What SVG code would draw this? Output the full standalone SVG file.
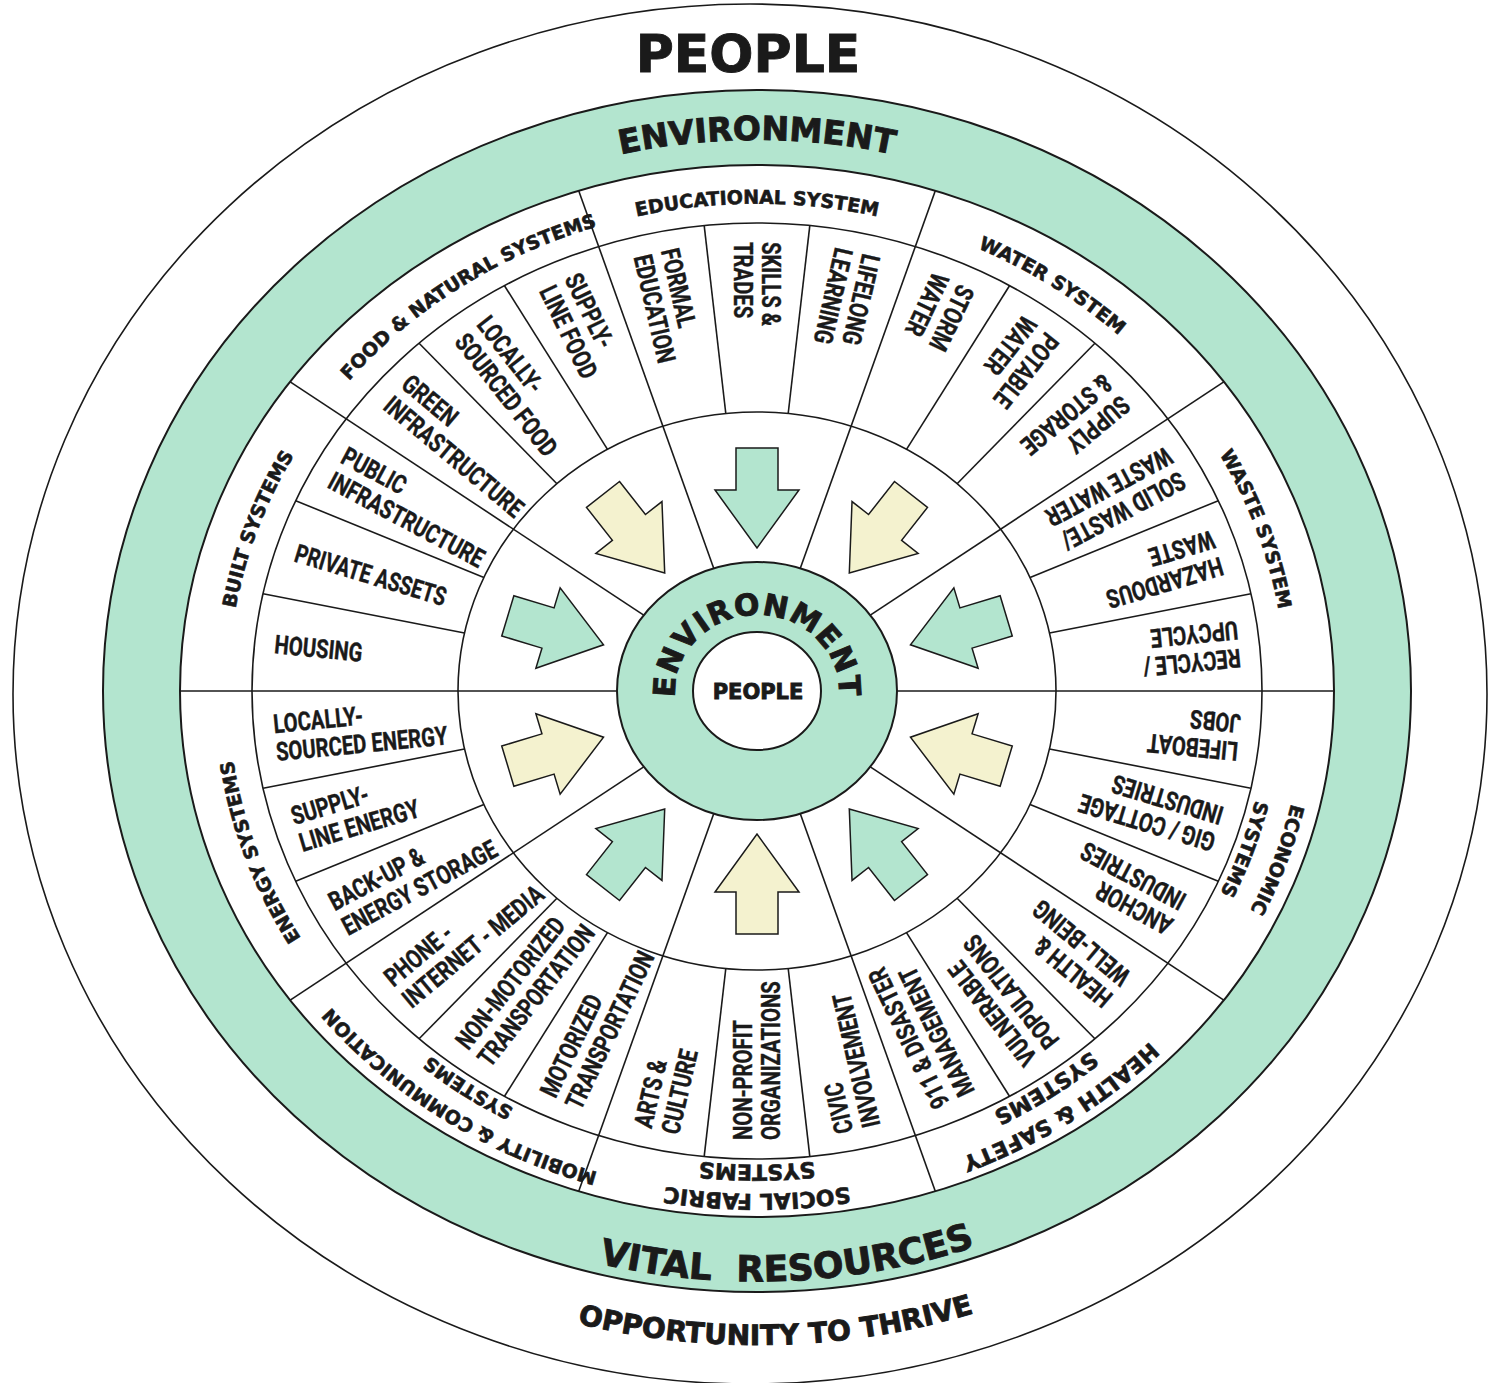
<svg xmlns="http://www.w3.org/2000/svg" width="1492" height="1383" viewBox="0 0 1492 1383">
<style>
.ln{stroke:#1a1a1a;stroke-width:1.6;fill:none}
.big{font-family:"DejaVu Sans","Liberation Sans",sans-serif;font-weight:bold;fill:#1a1a1a;stroke:#1a1a1a;stroke-width:0.9}
.sys{font-family:"DejaVu Sans","Liberation Sans",sans-serif;font-weight:bold;font-size:19px;fill:#1a1a1a;stroke:#1a1a1a;stroke-width:0.6}
.sys2{font-size:22px}
.sc{font-family:Roboto,"Liberation Sans",sans-serif;font-weight:700;font-size:26px;fill:#1a1a1a;stroke:#1a1a1a;stroke-width:0.4}
.g{fill:#b3e5cf}
.y{fill:#f4f2cf}
.arrow{stroke:#1a1a1a;stroke-width:1.5}
</style>
<defs>
<path id="arr" d="M0,-21H42V-42L100,0L42,42V21H0Z"/>
<path id="t-env" d="M369.6,268.9 A602.7,551 0 0 1 1144.4,268.9"/>
<path id="t-vital" d="M130.5,823.9 A643,590.5 0 0 0 1395.2,763"/>
<path id="t-opp" d="M67.6,823.6 A704,654 0 0 0 1453.6,785.4"/>
<path id="t-cenv" d="M679.9,717 A82,76 0 1 1 834.1,717"/>
<path id="t-edu" d="M236.2,606.4 A528.8,487.1 0 0 1 1277.8,606.4"/>
<path id="t-food" d="M281.7,904.5 A528.8,487.1 0 0 1 1124.4,340.6"/>
<path id="t-built" d="M508.7,1121.1 A528.8,487.1 0 0 1 830.6,208.6"/>
<path id="t-energy" d="M830.6,1173.4 A528.8,487.1 0 0 1 508.7,260.9"/>
<path id="t-waste" d="M683.4,208.6 A528.8,487.1 0 0 1 1005.3,1121.1"/>
<path id="t-water" d="M389.6,340.6 A528.8,487.1 0 0 1 1232.3,904.5"/>
<path id="t-mob-o" d="M1137.8,1052.7 A548.2,502.8 0 0 1 264.3,470.6"/>
<path id="t-mob-i" d="M1112.8,1031.8 A512.2,473.8 0 0 1 296.6,483.3"/>
<path id="t-soc-o" d="M1296.9,778.3 A548.2,502.8 0 0 1 217.1,778.3"/>
<path id="t-soc-i" d="M1261.4,773.3 A512.2,473.8 0 0 1 252.6,773.3"/>
<path id="t-hs-o" d="M1249.7,470.6 A548.2,502.8 0 0 1 376.2,1052.7"/>
<path id="t-hs-i" d="M1217.4,483.3 A512.2,473.8 0 0 1 401.2,1031.8"/>
<path id="t-eco-o" d="M1014.4,247.1 A548.2,502.8 0 0 1 680.7,1188.9"/>
<path id="t-eco-i" d="M997.5,272.7 A512.2,473.8 0 0 1 685.7,1160.2"/>
</defs>
<rect width="1492" height="1383" fill="#fff"/>
<g id="rings">
<ellipse cx="750" cy="694" rx="737" ry="690" fill="#fff" stroke="#1a1a1a" stroke-width="1.6"/>
<ellipse cx="757" cy="691" rx="654" ry="601" class="g" stroke="#1a1a1a" stroke-width="2"/>
<ellipse cx="757" cy="691" rx="577" ry="526" fill="#fff" stroke="#1a1a1a" stroke-width="2"/>
<ellipse cx="757" cy="691" rx="505" ry="468" class="ln"/>
<ellipse cx="757" cy="691" rx="299" ry="279" class="ln"/>
</g>
<g id="connectors" class="ln">
<line x1="897" y1="691" x2="1334" y2="691"/>
<line x1="870.3" y1="615.2" x2="1223.8" y2="381.8"/>
<line x1="800.3" y1="568.3" x2="935.3" y2="190.7"/>
<line x1="713.7" y1="568.3" x2="578.7" y2="190.7"/>
<line x1="643.7" y1="615.2" x2="290.2" y2="381.8"/>
<line x1="617" y1="691" x2="180" y2="691"/>
<line x1="643.7" y1="766.8" x2="290.2" y2="1000.2"/>
<line x1="713.7" y1="813.7" x2="578.7" y2="1191.3"/>
<line x1="800.3" y1="813.7" x2="935.3" y2="1191.3"/>
<line x1="870.3" y1="766.8" x2="1223.8" y2="1000.2"/>
<line x1="1049.5" y1="633" x2="1250.9" y2="593.7"/>
<line x1="1030.1" y1="577.5" x2="1218.3" y2="500.7"/>
<line x1="957.1" y1="483.7" x2="1094.9" y2="343.2"/>
<line x1="906.5" y1="449.4" x2="1009.5" y2="285.7"/>
<line x1="788.2" y1="413.5" x2="809.8" y2="225.6"/>
<line x1="725.8" y1="413.5" x2="704.2" y2="225.6"/>
<line x1="607.5" y1="449.4" x2="504.5" y2="285.7"/>
<line x1="556.9" y1="483.7" x2="419.1" y2="343.2"/>
<line x1="483.9" y1="577.5" x2="295.7" y2="500.7"/>
<line x1="464.5" y1="633" x2="263.1" y2="593.7"/>
<line x1="464.5" y1="749" x2="263.1" y2="788.3"/>
<line x1="483.9" y1="804.5" x2="295.7" y2="881.3"/>
<line x1="556.9" y1="898.3" x2="419.1" y2="1038.8"/>
<line x1="607.5" y1="932.6" x2="504.5" y2="1096.3"/>
<line x1="725.8" y1="968.5" x2="704.2" y2="1156.4"/>
<line x1="788.2" y1="968.5" x2="809.8" y2="1156.4"/>
<line x1="906.5" y1="932.6" x2="1009.5" y2="1096.3"/>
<line x1="957.1" y1="898.3" x2="1094.9" y2="1038.8"/>
<line x1="1030.1" y1="804.5" x2="1218.3" y2="881.3"/>
<line x1="1049.5" y1="749" x2="1250.9" y2="788.3"/>
</g>
<g id="center">
<ellipse cx="757" cy="691" rx="140" ry="129" class="g" stroke="#1a1a1a" stroke-width="2"/>
<ellipse cx="757" cy="691" rx="64" ry="59" fill="#fff" stroke="#1a1a1a" stroke-width="2"/>
<text class="big" font-size="30" letter-spacing="1" text-anchor="middle"><textPath href="#t-cenv" startOffset="50%">ENVIRONMENT</textPath></text>
<text class="big" font-size="21" stroke-width="0.5" x="758" y="699" text-anchor="middle">PEOPLE</text>
</g>
<g id="outer-labels">
<text class="big" font-size="52" stroke-width="1.4" x="748" y="72" text-anchor="middle">PEOPLE</text>
<text class="big" font-size="33" text-anchor="middle"><textPath href="#t-env" startOffset="50%">ENVIRONMENT</textPath></text>
<text class="big" font-size="36" text-anchor="middle"><textPath href="#t-vital" startOffset="50%">VITAL&#160;&#160;RESOURCES</textPath></text>
<text class="big" font-size="28" stroke-width="0.7" text-anchor="middle"><textPath href="#t-opp" startOffset="50%">OPPORTUNITY TO THRIVE</textPath></text>
</g>
<g id="sys-education">
<text class="sys" text-anchor="middle"><textPath href="#t-edu" startOffset="50%">EDUCATIONAL SYSTEM</textPath></text>
<text class="sc" transform="translate(656.2 251.8) rotate(77.1) scale(0.78 1)"><tspan x="0" y="-4.75">FORMAL</tspan><tspan x="0" y="23.25">EDUCATION</tspan></text>
<text class="sc" transform="translate(757 242) rotate(90) scale(0.78 1)"><tspan x="0" y="-4.75">SKILLS &amp;</tspan><tspan x="0" y="23.25">TRADES</tspan></text>
<text class="sc" transform="translate(857.8 251.8) rotate(102.9) scale(0.78 1)"><tspan x="0" y="-4.75">LIFELONG</tspan><tspan x="0" y="23.25">LEARNING</tspan></text>
<use href="#arr" class="arrow g" transform="translate(757 448) rotate(90)"/>
</g>
<g id="sys-food">
<text class="sys" text-anchor="middle"><textPath href="#t-food" startOffset="50%">FOOD &amp; NATURAL SYSTEMS</textPath></text>
<text class="sc" transform="translate(559.8 280.8) rotate(64.3) scale(0.78 1)"><tspan x="0" y="-4.75">SUPPLY-</tspan><tspan x="0" y="23.25">LINE FOOD</tspan></text>
<text class="sc" transform="translate(471.9 327.8) rotate(51.9) scale(0.78 1)"><tspan x="0" y="-4.75">LOCALLY-</tspan><tspan x="0" y="23.25">SOURCED FOOD</tspan></text>
<text class="sc" transform="translate(396.6 390.6) rotate(39.8) scale(0.78 1)"><tspan x="0" y="-4.75">GREEN</tspan><tspan x="0" y="23.25">INFRASTRUCTURE</tspan></text>
<use href="#arr" class="arrow y" transform="translate(603 494.4) rotate(51.9)"/>
</g>
<g id="sys-built">
<text class="sys" text-anchor="middle"><textPath href="#t-built" startOffset="50%">BUILT SYSTEMS</textPath></text>
<text class="sc" transform="translate(337 466.5) rotate(28.1) scale(0.78 1)"><tspan x="0" y="-4.75">PUBLIC</tspan><tspan x="0" y="23.25">INFRASTRUCTURE</tspan></text>
<text class="sc" transform="translate(295.7 552.3) rotate(16.7) scale(0.76 1)"><tspan x="0" y="9.25">PRIVATE ASSETS</tspan></text>
<text class="sc" transform="translate(274.7 644.1) rotate(5.55) scale(0.78 1)"><tspan x="0" y="9.25">HOUSING</tspan></text>
<use href="#arr" class="arrow g" transform="translate(507.8 615.9) rotate(16.8)"/>
</g>
<g id="sys-energy">
<text class="sys" text-anchor="middle"><textPath href="#t-energy" startOffset="50%">ENERGY SYSTEMS</textPath></text>
<text class="sc" transform="translate(274.7 737.9) rotate(-5.55) scale(0.78 1)"><tspan x="0" y="-4.75">LOCALLY-</tspan><tspan x="0" y="23.25">SOURCED ENERGY</tspan></text>
<text class="sc" transform="translate(295.7 829.7) rotate(-16.7) scale(0.78 1)"><tspan x="0" y="-4.75">SUPPLY-</tspan><tspan x="0" y="23.25">LINE ENERGY</tspan></text>
<text class="sc" transform="translate(337 915.5) rotate(-28.1) scale(0.78 1)"><tspan x="0" y="-4.75">BACK-UP &amp;</tspan><tspan x="0" y="23.25">ENERGY STORAGE</tspan></text>
<use href="#arr" class="arrow y" transform="translate(507.8 766.1) rotate(-16.8)"/>
</g>
<g id="sys-mobility">
<text class="sys" text-anchor="middle"><textPath href="#t-mob-o" startOffset="50%">MOBILITY &amp; COMMUNICATION</textPath></text>
<text class="sys" text-anchor="middle"><textPath href="#t-mob-i" startOffset="50%">SYSTEMS</textPath></text>
<text class="sc" transform="translate(396.6 991.4) rotate(-39.8) scale(0.78 1)"><tspan x="0" y="-4.75">PHONE -</tspan><tspan x="0" y="23.25">INTERNET - MEDIA</tspan></text>
<text class="sc" transform="translate(471.9 1054.2) rotate(-51.9) scale(0.76 1)"><tspan x="0" y="-4.75">NON-MOTORIZED</tspan><tspan x="0" y="23.25">TRANSPORTATION</tspan></text>
<text class="sc" transform="translate(559.8 1101.2) rotate(-64.3) scale(0.76 1)"><tspan x="0" y="-4.75">MOTORIZED</tspan><tspan x="0" y="23.25">TRANSPORTATION</tspan></text>
<use href="#arr" class="arrow g" transform="translate(603 887.6) rotate(-51.9)"/>
</g>
<g id="sys-social">
<text class="sys sys2" text-anchor="middle"><textPath href="#t-soc-o" startOffset="50%">SOCIAL FABRIC</textPath></text>
<text class="sys sys2" text-anchor="middle"><textPath href="#t-soc-i" startOffset="50%">SYSTEMS</textPath></text>
<text class="sc" transform="translate(656.2 1130.2) rotate(-77.1) scale(0.78 1)"><tspan x="0" y="-4.75">ARTS &amp;</tspan><tspan x="0" y="23.25">CULTURE</tspan></text>
<text class="sc" transform="translate(757 1140) rotate(-90) scale(0.78 1)"><tspan x="0" y="-4.75">NON-PROFIT</tspan><tspan x="0" y="23.25">ORGANIZATIONS</tspan></text>
<text class="sc" transform="translate(857.8 1130.2) rotate(-102.9) scale(0.78 1)"><tspan x="0" y="-4.75">CIVIC</tspan><tspan x="0" y="23.25">INVOLVEMENT</tspan></text>
<use href="#arr" class="arrow y" transform="translate(757 934) rotate(-90)"/>
</g>
<g id="sys-health">
<text class="sys sys2" text-anchor="middle"><textPath href="#t-hs-o" startOffset="50%">HEALTH &amp; SAFETY</textPath></text>
<text class="sys sys2" text-anchor="middle"><textPath href="#t-hs-i" startOffset="50%">SYSTEMS</textPath></text>
<text class="sc" transform="translate(954.2 1101.2) rotate(-115.7) scale(0.78 1)"><tspan x="0" y="-4.75">911 &amp; DISASTER</tspan><tspan x="0" y="23.25">MANAGEMENT</tspan></text>
<text class="sc" transform="translate(1042.1 1054.2) rotate(-128.1) scale(0.78 1)"><tspan x="0" y="-4.75">VULNERABLE</tspan><tspan x="0" y="23.25">POPULATIONS</tspan></text>
<text class="sc" transform="translate(1117.4 991.4) rotate(-140.2) scale(0.78 1)"><tspan x="0" y="-4.75">HEALTH &amp;</tspan><tspan x="0" y="23.25">WELL-BEING</tspan></text>
<use href="#arr" class="arrow g" transform="translate(911 887.6) rotate(-128.1)"/>
</g>
<g id="sys-economic">
<text class="sys" text-anchor="middle"><textPath href="#t-eco-o" startOffset="50%">ECONOMIC</textPath></text>
<text class="sys" text-anchor="middle"><textPath href="#t-eco-i" startOffset="50%">SYSTEMS</textPath></text>
<text class="sc" transform="translate(1177 915.5) rotate(-151.9) scale(0.78 1)"><tspan x="0" y="-4.75">ANCHOR</tspan><tspan x="0" y="23.25">INDUSTRIES</tspan></text>
<text class="sc" transform="translate(1218.3 829.7) rotate(-163.3) scale(0.78 1)"><tspan x="0" y="-4.75">GIG / COTTAGE</tspan><tspan x="0" y="23.25">INDUSTRIES</tspan></text>
<text class="sc" transform="translate(1239.3 737.9) rotate(-174.4) scale(0.78 1)"><tspan x="0" y="-4.75">LIFEBOAT</tspan><tspan x="0" y="23.25">JOBS</tspan></text>
<use href="#arr" class="arrow y" transform="translate(1006.2 766.1) rotate(-163.2)"/>
</g>
<g id="sys-waste">
<text class="sys" text-anchor="middle"><textPath href="#t-waste" startOffset="50%">WASTE SYSTEM</textPath></text>
<text class="sc" transform="translate(1239.3 644.1) rotate(174.4) scale(0.78 1)"><tspan x="0" y="-4.75">RECYCLE /</tspan><tspan x="0" y="23.25">UPCYCLE</tspan></text>
<text class="sc" transform="translate(1218.3 552.3) rotate(163.3) scale(0.78 1)"><tspan x="0" y="-4.75">HAZARDOUS</tspan><tspan x="0" y="23.25">WASTE</tspan></text>
<text class="sc" transform="translate(1177 466.5) rotate(151.9) scale(0.78 1)"><tspan x="0" y="-4.75">SOLID WASTE/</tspan><tspan x="0" y="23.25">WASTE WATER</tspan></text>
<use href="#arr" class="arrow g" transform="translate(1006.2 615.9) rotate(163.2)"/>
</g>
<g id="sys-water">
<text class="sys" text-anchor="middle"><textPath href="#t-water" startOffset="50%">WATER SYSTEM</textPath></text>
<text class="sc" transform="translate(1117.4 390.6) rotate(140.2) scale(0.78 1)"><tspan x="0" y="-4.75">SUPPLY</tspan><tspan x="0" y="23.25">&amp; STORAGE</tspan></text>
<text class="sc" transform="translate(1042.1 327.8) rotate(128.1) scale(0.78 1)"><tspan x="0" y="-4.75">POTABLE</tspan><tspan x="0" y="23.25">WATER</tspan></text>
<text class="sc" transform="translate(954.2 280.8) rotate(115.7) scale(0.78 1)"><tspan x="0" y="-4.75">STORM</tspan><tspan x="0" y="23.25">WATER</tspan></text>
<use href="#arr" class="arrow y" transform="translate(911 494.4) rotate(128.1)"/>
</g>
</svg>
